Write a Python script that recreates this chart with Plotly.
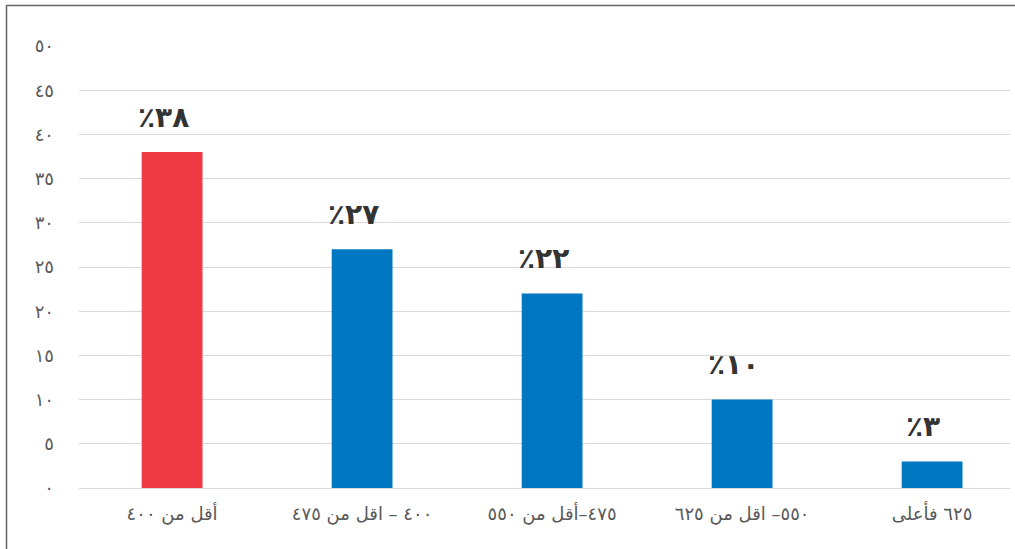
import plotly.graph_objects as go

categories = ["أقل من ٤٠٠", "٤٠٠ – اقل من ٤٧٥", "٤٧٥–أقل من ٥٥٠", "٥٥٠– اقل من ٦٢٥", "٦٢٥ فأعلى"]
values = [38, 27, 22, 10, 3]
value_labels = ["٪٣٨", "٪٢٧", "٪٢٢", "٪١٠", "٪٣"]
bar_colors = ["#ef3a45", "#0078c1", "#0078c1", "#0078c1", "#0078c1"]
y_tickvals = [0, 5, 10, 15, 20, 25, 30, 35, 40, 45, 50]
y_ticktext = ["٠", "٥", "١٠", "١٥", "٢٠", "٢٥", "٣٠", "٣٥", "٤٠", "٤٥", "٥٠"]

W, H = 1015, 549
L, R, T, B = 79, 5, 46, 61

fig = go.Figure()
fig.add_trace(go.Bar(
    x=list(range(len(categories))), y=values,
    marker=dict(color=bar_colors, line=dict(width=0)),
    width=0.32, hoverinfo="skip",
))

for i, (v, t) in enumerate(zip(values, value_labels)):
    fig.add_annotation(
        x=i, y=v, text=t, showarrow=False, xref="x", yref="y",
        yanchor="middle", yshift=35, xshift=-9,
        font=dict(family="DejaVu Sans", size=28, color="#333333", weight="bold"),
    )

pw = W - L - R
ph = H - T - B
fx = lambda px: (px - L) / pw
fy = lambda py: (H - B - py) / ph
# outer frame (top and left visible)
fig.add_shape(type="line", xref="paper", yref="paper",
              x0=fx(6), x1=fx(1030), y0=fy(5.5), y1=fy(5.5),
              line=dict(color="#666666", width=1.5))
fig.add_shape(type="line", xref="paper", yref="paper",
              x0=fx(6.5), x1=fx(6.5), y0=fy(5), y1=fy(560),
              line=dict(color="#666666", width=1.5))

fig.update_layout(
    width=W, height=H,
    margin=dict(l=L, r=R, t=T, b=B, pad=0),
    paper_bgcolor="white", plot_bgcolor="white",
    showlegend=False,
    font=dict(family="DejaVu Sans", color="#595959", size=15),
    xaxis=dict(
        range=[-0.49, 4.41],
        tickmode="array", tickvals=list(range(len(categories))), ticktext=categories,
        showgrid=False, showline=False, zeroline=False, ticks="",
        ticklabelstandoff=13,
        tickfont=dict(size=18, color="#595959"),
    ),
    yaxis=dict(
        range=[0, 50],
        tickmode="array", tickvals=y_tickvals, ticktext=y_ticktext,
        showgrid=True, gridcolor="#d9d9d9", gridwidth=1,
        zeroline=True, zerolinecolor="#d9d9d9", zerolinewidth=1,
        showline=False, ticks="",
        ticklabelstandoff=24,
        tickfont=dict(size=18, color="#595959"),
    ),
)

fig.write_html(
    "out.html",
    config={"displayModeBar": False},
    post_script="document.body.style.margin='0';document.body.style.overflow='hidden';",
)
